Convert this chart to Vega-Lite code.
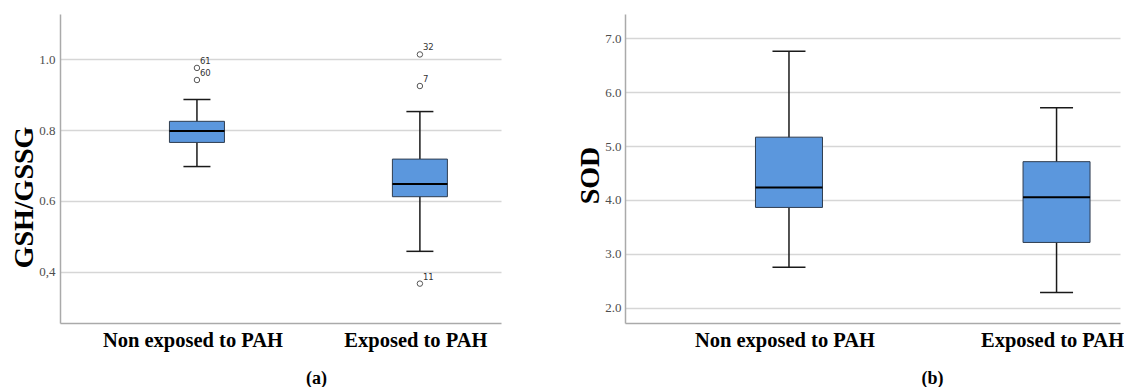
{
  "$schema": "https://vega.github.io/schema/vega-lite/v6.json",
  "background": "white",
  "padding": {"left": 10, "top": 14, "right": 0, "bottom": 0},
  "spacing": 75,
  "config": {"view": {"stroke": null}, "font": "Liberation Serif", "axis": {"labelFont": "Liberation Serif", "titleFont": "Liberation Serif"}},
  "datasets": {
    "statsA": [
      {"group": "Non exposed to PAH", "lower": 0.697, "q1": 0.765, "median": 0.797, "q3": 0.8245, "upper": 0.886},
      {"group": "Exposed to PAH", "lower": 0.458, "q1": 0.612, "median": 0.648, "q3": 0.718, "upper": 0.852}
    ],
    "outA": [
      {"group": "Non exposed to PAH", "value": 0.975, "label": "61"},
      {"group": "Non exposed to PAH", "value": 0.941, "label": "60"},
      {"group": "Exposed to PAH", "value": 1.013, "label": "32"},
      {"group": "Exposed to PAH", "value": 0.924, "label": "7"},
      {"group": "Exposed to PAH", "value": 0.367, "label": "11"}
    ],
    "statsB": [
      {"group": "Non exposed to PAH", "lower": 2.75, "q1": 3.86, "median": 4.23, "q3": 5.165, "upper": 6.76},
      {"group": "Exposed to PAH", "lower": 2.28, "q1": 3.21, "median": 4.05, "q3": 4.71, "upper": 5.71}
    ]
  },
  "hconcat": [
    {
      "width": 441,
      "height": 309,
      "encoding": {
        "x": {
          "field": "group", "type": "nominal",
          "sort": ["Non exposed to PAH", "Exposed to PAH"],
          "scale": {"type": "band", "paddingInner": 0.5, "paddingOuter": 0.239, "align": 0.762},
          "axis": {
            "title": "(a)", "titleFont": "Liberation Serif", "titleFontSize": 18, "titleFontWeight": "bold", "titleColor": "#000",
            "titleX": 256, "titleY": 60, "titleBaseline": "alphabetic", "titleAlign": "center",
            "labelFont": "Liberation Serif", "labelFontSize": 20.5, "labelFontWeight": "bold", "labelColor": "#000",
            "labelAngle": 0, "labelPadding": 7, "labelLimit": 400, "labelOffset": -4,
            "ticks": false, "tickSize": 0, "grid": false, "domainColor": "#aaaaaa", "domainWidth": 1.5
          }
        }
      },
      "layer": [
        {
          "data": {"name": "statsA"},
          "mark": {"type": "rule", "color": "#1a1a1a", "strokeWidth": 1.5},
          "encoding": {
            "y": {
              "field": "lower", "type": "quantitative",
              "scale": {"domain": [0.256, 1.127], "nice": false, "zero": false},
              "axis": {
                "values": [0.4, 0.6, 0.8, 1.0],
                "labelExpr": "datum.value == 0.4 ? '0,4' : format(datum.value, '.1f')",
                "title": "GSH/GSSG", "titleFont": "Liberation Serif", "titleFontSize": 28, "titleFontWeight": "bold", "titleColor": "#000",
                "titleX": -36, "titleY": 183, "titleAngle": -90, "titleBaseline": "middle", "titleAlign": "center",
                "grid": true, "gridColor": "#d6d6d6", "gridWidth": 1.5,
                "domainColor": "#aaaaaa", "domainWidth": 1.5, "ticks": false, "tickSize": 0,
                "labelFont": "Liberation Serif", "labelFontSize": 13, "labelColor": "#4d4d4d", "labelPadding": 5
              }
            },
            "y2": {"field": "upper"}
          }
        },
        {
          "data": {"name": "statsA"},
          "mark": {"type": "bar", "width": 55, "fill": "#5b97dd", "stroke": "#2f3d4f", "strokeWidth": 1},
          "encoding": {
            "y": {"field": "q1", "type": "quantitative", "scale": {"domain": [0.256, 1.127], "nice": false, "zero": false}},
            "y2": {"field": "q3"}
          }
        },
        {
          "data": {"name": "statsA"},
          "mark": {"type": "tick", "size": 55, "thickness": 2, "color": "#000000", "opacity": 1},
          "encoding": {
            "y": {"field": "median", "type": "quantitative", "scale": {"domain": [0.256, 1.127], "nice": false, "zero": false}}
          }
        },
        {
          "data": {"name": "statsA"},
          "mark": {"type": "tick", "size": 27, "thickness": 1.5, "color": "#1a1a1a", "opacity": 1},
          "encoding": {
            "y": {"field": "lower", "type": "quantitative", "scale": {"domain": [0.256, 1.127], "nice": false, "zero": false}}
          }
        },
        {
          "data": {"name": "statsA"},
          "mark": {"type": "tick", "size": 27, "thickness": 1.5, "color": "#1a1a1a", "opacity": 1},
          "encoding": {
            "y": {"field": "upper", "type": "quantitative", "scale": {"domain": [0.256, 1.127], "nice": false, "zero": false}}
          }
        },
        {
          "data": {"name": "outA"},
          "mark": {"type": "point", "shape": "circle", "filled": false, "size": 30, "stroke": "#555555", "strokeWidth": 1, "opacity": 1},
          "encoding": {
            "y": {"field": "value", "type": "quantitative", "scale": {"domain": [0.256, 1.127], "nice": false, "zero": false}}
          }
        },
        {
          "data": {"name": "outA"},
          "mark": {"type": "text", "font": "DejaVu Sans", "fontSize": 8.5, "color": "#333333", "align": "left", "baseline": "middle", "dx": 3, "dy": -7},
          "encoding": {
            "y": {"field": "value", "type": "quantitative", "scale": {"domain": [0.256, 1.127], "nice": false, "zero": false}},
            "text": {"field": "label"}
          }
        }
      ]
    },
    {
      "width": 495,
      "height": 309,
      "encoding": {
        "x": {
          "field": "group", "type": "nominal",
          "sort": ["Non exposed to PAH", "Exposed to PAH"],
          "scale": {"type": "band", "paddingInner": 0.8, "paddingOuter": 0.325, "align": 0.789},
          "axis": {
            "title": "(b)", "titleFont": "Liberation Serif", "titleFontSize": 18, "titleFontWeight": "bold", "titleColor": "#000",
            "titleX": 307, "titleY": 60, "titleBaseline": "alphabetic", "titleAlign": "center",
            "labelFont": "Liberation Serif", "labelFontSize": 20.5, "labelFontWeight": "bold", "labelColor": "#000",
            "labelAngle": 0, "labelPadding": 7, "labelLimit": 400, "labelOffset": -4,
            "ticks": false, "tickSize": 0, "grid": false, "domainColor": "#aaaaaa", "domainWidth": 1.5
          }
        }
      },
      "layer": [
        {
          "data": {"name": "statsB"},
          "mark": {"type": "rule", "color": "#1a1a1a", "strokeWidth": 1.5},
          "encoding": {
            "y": {
              "field": "lower", "type": "quantitative",
              "scale": {"domain": [1.714, 7.452], "nice": false, "zero": false},
              "axis": {
                "values": [2, 3, 4, 5, 6, 7],
                "format": ".1f",
                "title": "SOD", "titleFont": "Liberation Serif", "titleFontSize": 28, "titleFontWeight": "bold", "titleColor": "#000",
                "titleX": -35, "titleY": 161, "titleAngle": -90, "titleBaseline": "middle", "titleAlign": "center",
                "grid": true, "gridColor": "#d6d6d6", "gridWidth": 1.5,
                "domainColor": "#aaaaaa", "domainWidth": 1.5, "ticks": false, "tickSize": 0,
                "labelFont": "Liberation Serif", "labelFontSize": 13, "labelColor": "#4d4d4d", "labelPadding": 4
              }
            },
            "y2": {"field": "upper"}
          }
        },
        {
          "data": {"name": "statsB"},
          "mark": {"type": "bar", "width": 67, "fill": "#5b97dd", "stroke": "#2f3d4f", "strokeWidth": 1},
          "encoding": {
            "y": {"field": "q1", "type": "quantitative", "scale": {"domain": [1.714, 7.452], "nice": false, "zero": false}},
            "y2": {"field": "q3"}
          }
        },
        {
          "data": {"name": "statsB"},
          "mark": {"type": "tick", "size": 67, "thickness": 2, "color": "#000000", "opacity": 1},
          "encoding": {
            "y": {"field": "median", "type": "quantitative", "scale": {"domain": [1.714, 7.452], "nice": false, "zero": false}}
          }
        },
        {
          "data": {"name": "statsB"},
          "mark": {"type": "tick", "size": 33, "thickness": 1.5, "color": "#1a1a1a", "opacity": 1},
          "encoding": {
            "y": {"field": "lower", "type": "quantitative", "scale": {"domain": [1.714, 7.452], "nice": false, "zero": false}}
          }
        },
        {
          "data": {"name": "statsB"},
          "mark": {"type": "tick", "size": 33, "thickness": 1.5, "color": "#1a1a1a", "opacity": 1},
          "encoding": {
            "y": {"field": "upper", "type": "quantitative", "scale": {"domain": [1.714, 7.452], "nice": false, "zero": false}}
          }
        }
      ]
    }
  ]
}
